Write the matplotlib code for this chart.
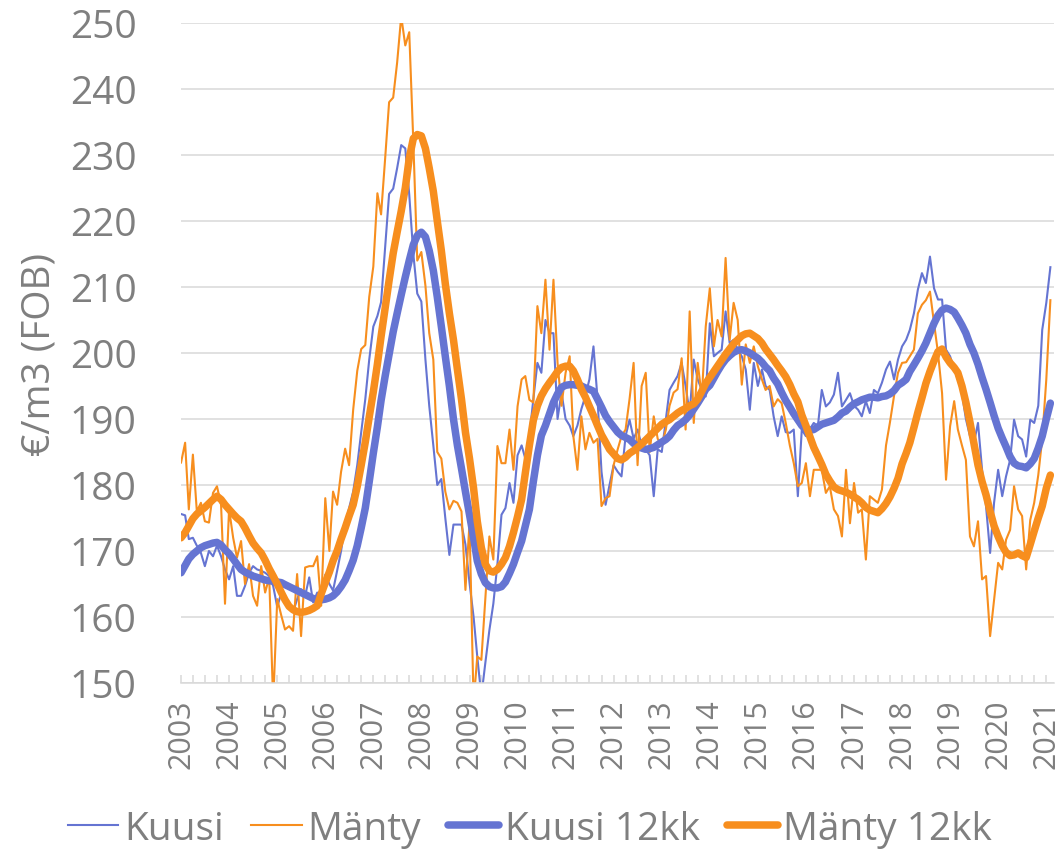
import pandas as pd
import matplotlib
matplotlib.use("Agg")
import matplotlib.pyplot as plt
import matplotlib.dates as mdates

plt.rcParams['font.family'] = ['Open Sans', 'DejaVu Sans']

# monthly values Jan 2003 - Feb 2021, €/m3 (FOB)
months = pd.date_range('2003-01-01', '2021-02-01', freq='MS')

kuusi = [
    175.6, 175.4, 171.8, 172.0, 170.8, 169.7, 167.7, 170.0, 169.2, 170.8, 169.2, 167.2,
    165.7, 167.7, 163.2, 163.2, 164.7, 166.7, 167.7, 167.2, 167.0, 166.7, 166.2, 164.7,
    161.5, 163.7, 163.2, 161.7, 160.7, 162.7, 164.2, 163.2, 166.0, 162.2, 163.7, 162.2,
    166.4, 165.0, 164.0, 167.0, 170.0, 174.0, 176.5, 179.0, 183.0, 188.0, 193.0, 199.0,
    204.0, 205.6, 207.7, 216.0, 224.1, 224.9, 228.0, 231.5, 231.0, 224.0, 215.0, 209.0,
    207.8, 199.0, 192.0, 186.0, 180.0, 180.9, 175.0, 169.4, 174.0, 174.0, 174.0, 171.0,
    165.2, 160.0, 154.0, 148.0, 153.0, 158.0, 162.0, 168.0, 175.5, 176.5, 180.3, 177.3,
    184.5, 186.0, 184.0, 187.4, 193.0, 198.5, 197.0, 205.0, 203.0, 203.0, 190.0, 194.0,
    190.0, 189.0, 187.4, 189.0, 191.5, 193.5, 196.0, 201.0, 193.0, 182.0, 177.0, 180.0,
    183.0, 182.0, 181.3, 187.4, 189.9, 187.0, 188.4, 186.0, 185.4, 184.5, 178.3, 185.4,
    185.0, 190.0, 194.4, 195.5, 196.5, 198.5, 195.0, 190.9, 199.0, 196.0, 194.4, 193.4,
    204.5, 199.5, 200.0, 200.5, 206.3, 201.5, 202.0, 200.5, 199.5, 197.5, 191.4, 198.5,
    195.0, 197.5, 195.0, 194.4, 190.4, 187.4, 190.4, 188.0, 187.9, 188.4, 178.3, 188.4,
    187.4, 188.5, 189.4, 188.9, 194.4, 191.9, 192.5, 193.7, 197.0, 191.9, 192.9, 193.9,
    192.0, 191.4, 190.4, 192.7, 190.9, 194.4, 193.9, 195.5, 197.5, 198.7, 196.0, 199.0,
    201.0, 202.0, 203.5, 206.0, 209.6, 212.1, 210.6, 214.6, 209.8, 208.1, 208.1, 200.5,
    199.5, 197.5, 196.0, 193.9, 190.0, 187.4, 186.4, 189.4, 182.3, 176.8, 169.7, 177.3,
    182.3, 178.3, 181.3, 183.8, 189.9, 187.4, 186.9, 184.3, 189.9, 189.4, 192.0, 203.5,
    207.6, 213.0,
]

manty = [
    183.4, 186.4, 176.3, 184.6, 176.0, 177.3, 174.5, 174.3, 178.8, 179.8, 177.0, 162.0,
    176.3, 172.0, 169.0, 171.5, 165.0, 168.0, 163.2, 161.7, 167.7, 163.7, 166.0, 147.0,
    162.7, 160.2, 158.1, 158.6, 157.9, 166.5, 157.1, 167.5, 167.7, 167.7, 169.2, 161.7,
    178.0, 170.0, 179.0, 177.0, 182.0, 185.5, 183.0, 191.4, 197.3, 200.6, 201.2, 208.5,
    213.1, 224.2, 221.0, 229.5, 238.0, 238.7, 244.0, 251.0, 246.6, 248.6, 232.0, 214.0,
    215.3, 210.2, 203.0, 199.0, 185.0, 184.0, 179.0, 176.3, 177.6, 177.3, 176.0, 164.1,
    174.2, 147.0, 154.0, 153.5, 162.6, 172.2, 168.7, 185.9, 183.3, 183.3, 188.4, 182.3,
    191.9, 196.0, 196.5, 192.9, 192.5, 207.1, 203.0, 211.1, 200.5, 211.1, 198.5, 192.0,
    197.0, 199.5, 187.4, 182.3, 190.4, 185.4, 187.9, 186.4, 187.0, 176.8, 178.0, 178.3,
    183.0, 185.4, 187.4, 188.4, 193.0, 198.5, 183.0, 195.0, 197.0, 185.0, 190.4, 187.0,
    186.0, 188.4, 192.0, 194.0, 194.5, 199.2, 188.4, 206.3, 189.4, 198.5, 193.4, 204.0,
    209.8, 201.0, 205.0, 202.5, 214.4, 202.0, 207.6, 205.0, 195.2, 201.3, 198.5, 201.0,
    198.0, 196.0, 194.4, 195.0, 191.9, 193.0, 192.4, 189.4, 186.0, 183.3, 179.8, 180.3,
    183.3, 178.3, 182.3, 182.3, 182.3, 178.8, 179.8, 176.3, 175.3, 172.2, 182.3, 174.2,
    180.3, 175.8, 176.3, 168.7, 178.3, 177.8, 177.3, 179.3, 186.0, 189.5, 193.5, 197.0,
    198.5, 198.6, 199.5, 200.5, 206.0, 207.3, 208.0, 209.3, 204.5, 200.0, 193.9, 180.8,
    188.9, 192.7, 188.4, 186.0, 183.8, 172.2, 170.7, 174.5, 165.7, 166.2, 157.1, 162.6,
    168.2, 167.2, 171.7, 173.2, 179.8, 176.3, 175.3, 167.2, 174.7, 177.3, 181.5, 187.0,
    196.0, 208.0,
]

kuusi_12kk = [
    166.7, 167.8, 168.8, 169.5, 170.0, 170.5, 170.8, 171.0, 171.2, 171.3, 170.9, 170.2,
    169.6, 168.8, 168.0, 167.2, 166.8, 166.5, 166.2, 166.0, 165.8, 165.6, 165.5, 165.4,
    165.3, 165.2, 164.9, 164.6, 164.3, 164.0, 163.7, 163.4, 163.1, 162.8, 162.6, 162.6,
    162.7, 162.9, 163.2, 163.8, 164.6, 165.6, 167.0, 168.6, 170.8, 173.5, 176.5, 180.5,
    184.8, 188.8, 192.8, 196.5, 199.8, 203.2, 206.0, 208.8, 211.5, 214.0, 216.4, 217.8,
    218.3, 217.6, 215.5, 212.5, 208.5, 204.0, 199.5, 195.0, 190.0, 186.0, 182.5, 179.0,
    175.5, 172.0, 168.5, 166.5, 165.2, 164.6, 164.4, 164.4, 164.6, 165.3, 166.6, 168.0,
    169.8, 171.5, 173.8, 176.3, 180.5, 184.5, 187.5, 189.0, 190.8, 192.5, 193.8, 194.8,
    195.1, 195.2, 195.2, 195.1, 195.0, 194.7, 194.5, 194.2, 193.0, 191.8, 190.5, 189.6,
    188.8, 188.0, 187.5, 187.2, 186.9, 186.3, 185.8, 185.6, 185.4, 185.5, 185.7, 186.1,
    186.5, 186.9, 187.4, 188.3, 189.0, 189.4, 189.9, 190.6, 191.5, 192.4, 193.4, 194.5,
    195.1, 196.2, 197.2, 198.2, 199.0, 199.6, 200.1, 200.4, 200.5, 200.3, 200.0, 199.6,
    199.2, 198.6, 197.9, 197.3, 196.2, 195.3, 194.0, 192.8, 191.8, 190.8, 189.9, 189.0,
    188.4, 188.3, 188.4, 188.8, 189.2, 189.4, 189.6, 189.8, 190.3, 190.9, 191.2, 191.8,
    192.3, 192.6, 192.9, 193.1, 193.3, 193.3, 193.2, 193.4, 193.5, 193.8, 194.3, 195.1,
    195.5, 196.0, 197.2, 198.2, 199.2, 200.3, 201.5, 203.0, 204.5, 205.7, 206.5, 206.8,
    206.6, 206.2, 205.3, 204.2, 203.0, 201.3, 200.0, 198.3, 196.3, 194.5, 192.5, 190.5,
    188.6, 187.1, 185.8, 184.3, 183.3, 182.9, 182.8, 182.6, 183.2, 184.0, 185.6, 187.4,
    190.0, 192.4,
]

manty_12kk = [
    172.0, 172.8, 173.8, 174.9, 175.6, 176.1, 176.6, 177.2, 177.8, 178.3, 177.8, 177.0,
    176.3, 175.6, 175.0, 174.5, 173.5, 172.3, 171.2, 170.4, 169.7, 168.6, 167.3, 166.2,
    165.0, 163.7, 162.6, 161.6, 161.1, 160.8, 160.7, 160.8, 161.0, 161.3, 161.7, 163.5,
    165.2, 166.8, 168.5, 170.0, 171.8, 173.5, 175.3, 177.0, 179.8, 183.0, 186.5, 190.3,
    194.1, 198.3, 202.5, 206.8, 211.0, 215.1, 218.3, 221.5, 225.0, 229.5, 232.5, 233.1,
    232.9, 231.0, 228.0, 224.5, 220.0, 215.5, 210.5, 206.0, 202.0, 197.5, 193.0, 188.0,
    184.0, 179.5, 174.5, 170.5, 168.0, 167.0, 166.8, 167.2, 168.0, 169.0, 170.7, 172.8,
    175.2, 177.8, 181.8, 186.0, 189.8, 192.0, 193.5, 194.6, 195.5, 196.3, 197.2, 197.8,
    198.0, 198.0, 197.3, 196.0, 194.5, 193.3, 191.9, 190.5, 189.0, 187.6, 186.5, 185.4,
    184.7, 184.0, 183.8, 184.2, 184.8, 185.2, 185.7, 186.2, 186.8, 187.4, 188.0, 188.6,
    189.2, 189.6, 189.9, 190.4, 190.9, 191.3, 191.6, 192.0, 192.3, 193.0, 194.2, 195.4,
    196.3, 197.2, 198.0, 198.9, 199.8, 200.6, 201.4, 202.0, 202.6, 202.9, 203.0, 202.6,
    202.2, 201.5, 200.6, 199.8, 199.0, 198.1, 197.3, 196.4, 195.2, 193.8, 192.6, 190.6,
    189.0, 187.3, 185.7, 184.4, 183.1, 181.6, 180.6, 179.7, 179.3, 179.1, 178.9, 178.6,
    178.2, 177.8, 177.3, 176.6, 176.2, 176.0, 175.8, 176.4, 177.2, 178.2, 179.5, 181.0,
    183.2, 184.8, 186.4, 188.7, 191.0, 193.2, 195.4, 197.2, 198.8, 200.2, 200.6, 199.4,
    198.5, 197.8, 197.0, 195.0, 192.5, 189.5, 186.3, 183.0, 180.5, 178.5, 176.0, 173.8,
    172.2, 170.8, 169.8, 169.3, 169.4, 169.7, 169.3, 169.0, 171.0, 173.0, 175.0, 176.8,
    179.5, 181.5,
]

BLUE = '#6574D2'
ORANGE = '#F78E1E'
TEXT = '#7F7F7F'
GRID = '#D9D9D9'

fig = plt.figure(figsize=(10.6, 8.54), dpi=100)
ax = fig.add_axes([0.1708, 0.1991, 0.8236, 0.7728])

ax.plot(months, kuusi, color=BLUE, lw=1.5, label='Kuusi')
ax.plot(months, manty, color=ORANGE, lw=1.5, label='Mänty')
ax.plot(months, kuusi_12kk, color=BLUE, lw=5.4, solid_capstyle='round', label='Kuusi 12kk')
ax.plot(months, manty_12kk, color=ORANGE, lw=5.4, solid_capstyle='round', label='Mänty 12kk')

ax.set_ylim(150, 250)
ax.set_yticks(range(150, 251, 10))
ax.set_xlim(months[0], pd.Timestamp('2021-03-01'))

ax.xaxis.set_major_locator(mdates.YearLocator())
ax.xaxis.set_major_formatter(mdates.DateFormatter('%Y'))
ax.xaxis.set_minor_locator(mdates.MonthLocator(bymonth=[4, 7, 10]))

ax.tick_params(axis='y', length=0, pad=32, labelsize=28, labelcolor=TEXT)
ax.tick_params(axis='x', which='both', direction='in', length=6, width=1.1,
               color=GRID, pad=11)
ax.tick_params(axis='x', which='major', labelsize=22, labelcolor=TEXT, labelrotation=90)

ax.yaxis.grid(True, color=GRID, lw=1.1)
ax.set_axisbelow(True)
for side in ['left', 'right', 'top']:
    ax.spines[side].set_visible(False)
ax.spines['bottom'].set_color(GRID)
ax.spines['bottom'].set_linewidth(1.1)

fig.text(40 / 1060, 0.585, '€/m3 (FOB)', rotation=90, ha='center', va='center',
         fontsize=28, color=TEXT)

fig.legend(loc='center', bbox_to_anchor=(0.5, 0.028), ncol=4, frameon=False,
           fontsize=28, labelcolor=TEXT, handlelength=1.3, handletextpad=0.15,
           columnspacing=0.7, borderaxespad=0)

fig.savefig('out.png', dpi=100)
